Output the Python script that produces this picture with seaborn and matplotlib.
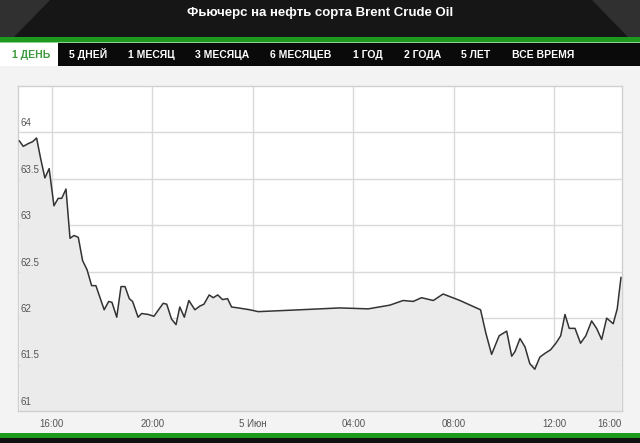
import matplotlib
matplotlib.use("Agg")
import matplotlib.pyplot as plt
from matplotlib.patches import Rectangle, Polygon
import seaborn as sns
import pandas as pd

# price data, time in hours from 00:00 of 4 June
hours = [14.70, 14.86, 15.06, 15.23, 15.39, 15.55, 15.72, 15.89, 16.08, 16.25,
         16.39, 16.56, 16.72, 16.88, 17.05, 17.22, 17.40, 17.58, 17.75, 18.08,
         18.26, 18.39, 18.58, 18.75, 18.91, 19.08, 19.21, 19.43, 19.57, 19.83,
         20.06, 20.27, 20.43, 20.57, 20.76, 20.94, 21.09, 21.27, 21.45, 21.69,
         21.89, 22.05, 22.26, 22.42, 22.60, 22.79, 22.99, 23.15, 23.42, 23.88,
         24.21, 25.87, 27.46, 28.59, 29.45, 29.98, 30.38, 30.71, 31.18, 31.57,
         32.24, 33.06, 33.27, 33.50, 33.80, 34.10, 34.30, 34.43, 34.63, 34.83,
         35.02, 35.22, 35.42, 35.62, 35.85, 36.06, 36.25, 36.42, 36.59, 36.82,
         37.04, 37.25, 37.48, 37.68, 37.88, 38.08, 38.34, 38.50, 38.65]
prices = [63.91, 63.85, 63.88, 63.90, 63.94, 63.72, 63.51, 63.61, 63.21, 63.29,
          63.29, 63.39, 62.86, 62.89, 62.87, 62.62, 62.52, 62.35, 62.35, 62.09,
          62.18, 62.17, 62.01, 62.34, 62.34, 62.21, 62.18, 62.01, 62.05, 62.04,
          62.02, 62.10, 62.16, 62.15, 61.99, 61.93, 62.12, 62.01, 62.19, 62.09,
          62.13, 62.15, 62.25, 62.22, 62.25, 62.20, 62.21, 62.12, 62.11, 62.09,
          62.07, 62.09, 62.11, 62.10, 62.14, 62.19, 62.18, 62.22, 62.19, 62.26,
          62.19, 62.09, 61.84, 61.61, 61.81, 61.86, 61.59, 61.64, 61.78, 61.69,
          61.51, 61.45, 61.58, 61.62, 61.66, 61.73, 61.81, 62.04, 61.89, 61.89,
          61.73, 61.81, 61.97, 61.89, 61.77, 62.00, 61.94, 62.10, 62.44]

x_ticks = [16, 20, 24, 28, 32, 36]
x_labels = ["16:00", "20:00", "5 Июн", "04:00", "08:00", "12:00"]
last_tick = 38.2
last_label = "16:00"
y_ticks = [61, 61.5, 62, 62.5, 63, 63.5, 64]
y_labels = ["61", "61.5", "62", "62.5", "63", "63.5", "64"]

tabs = ["1 ДЕНЬ", "5 ДНЕЙ", "1 МЕСЯЦ", "3 МЕСЯЦА", "6 МЕСЯЦЕВ",
        "1 ГОД", "2 ГОДА", "5 ЛЕТ", "ВСЕ ВРЕМЯ"]
tab_x = [31, 88, 151, 222, 301, 368, 423, 476, 543]
title = "Фьючерс на нефть сорта Brent Crude Oil"

df = pd.DataFrame({"hour": hours, "price": prices})

sns.set_style("white")
plt.rcParams["font.family"] = ["Liberation Sans", "DejaVu Sans"]

W, H = 640, 443
fig = plt.figure(figsize=(W / 100, H / 100), dpi=100)
fig.patch.set_facecolor("#f3f3f3")


def box(x0, y0, x1, y1, color, z=0):
    # pixel box -> figure rectangle (y from top)
    fig.add_artist(Rectangle((x0 / W, 1 - y1 / H), (x1 - x0) / W, (y1 - y0) / H,
                             transform=fig.transFigure, facecolor=color,
                             edgecolor="none", zorder=z))


def poly(pts, color, z=1):
    fig.add_artist(Polygon([(px / W, 1 - py / H) for px, py in pts], closed=True,
                           transform=fig.transFigure, facecolor=color,
                           edgecolor="none", zorder=z))


# header
box(0, 0, W, 37, "#161616")
poly([(0, 0), (50, 0), (14, 37), (0, 37)], "#303030")
poly([(592, 0), (W, 0), (W, 37), (628, 37)], "#303030")
box(0, 37, W, 42, "#1d9a1d", 2)
box(0, 42, W, 43, "#8fcf8f", 2)
box(0, 43, W, 66, "#0a0a0a", 2)
box(0, 43, 58, 66, "#ffffff", 3)
fig.text(0.5, 1 - 13 / H, title, color="white", fontsize=9.5, weight="bold",
         ha="center", va="center", zorder=5)
for i, (t, tx) in enumerate(zip(tabs, tab_x)):
    fig.text(tx / W, 1 - 58.5 / H, t, color="#3b9a3b" if i == 0 else "white",
             fontsize=7.5, weight="bold", ha="center", va="baseline", zorder=5)

# footer
box(0, 433, W, 438, "#1d9a1d", 2)
box(0, 438, W, H, "#111111", 2)

# chart
ax = fig.add_axes([18 / W, 1 - 411 / H, (622 - 18) / W, (411 - 86) / H])
ax.set_facecolor("white")
ax.fill_between(df["hour"], df["price"], 61, color="#ebebeb", zorder=1, lw=0)
sns.lineplot(data=df, x="hour", y="price", ax=ax, color="#333333",
             linewidth=1.1, zorder=3)

ax.set_xlim(14.65, 38.69)
ax.set_ylim(61, 64.5)
ax.set_xticks(x_ticks)
ax.set_xticklabels(x_labels)
ax.set_yticks(y_ticks)
ax.set_yticklabels([])
ax.tick_params(axis="x", length=0, pad=6, labelsize=7, labelcolor="#555555")
ax.tick_params(axis="y", length=0)
ax.grid(True, color="#d9d9d9", linewidth=1, zorder=0)
ax.set_axisbelow(True)
ax.set_xlabel("")
ax.set_ylabel("")
for s in ax.spines.values():
    s.set_color("#d0d0d0")
    s.set_linewidth(1)

for v, lab in zip(y_ticks, y_labels):
    ax.annotate(lab, xy=(0, v), xycoords=("axes fraction", "data"),
                xytext=(2, 3), textcoords="offset points", ha="left",
                va="bottom", fontsize=7, color="#555555", zorder=4)

ax.annotate(last_label, xy=(last_tick, 0), xycoords=("data", "axes fraction"),
            xytext=(0, -6), textcoords="offset points", ha="center", va="top",
            fontsize=7, color="#555555", annotation_clip=False)

fig.savefig("out.png", dpi=100, facecolor=fig.get_facecolor())
